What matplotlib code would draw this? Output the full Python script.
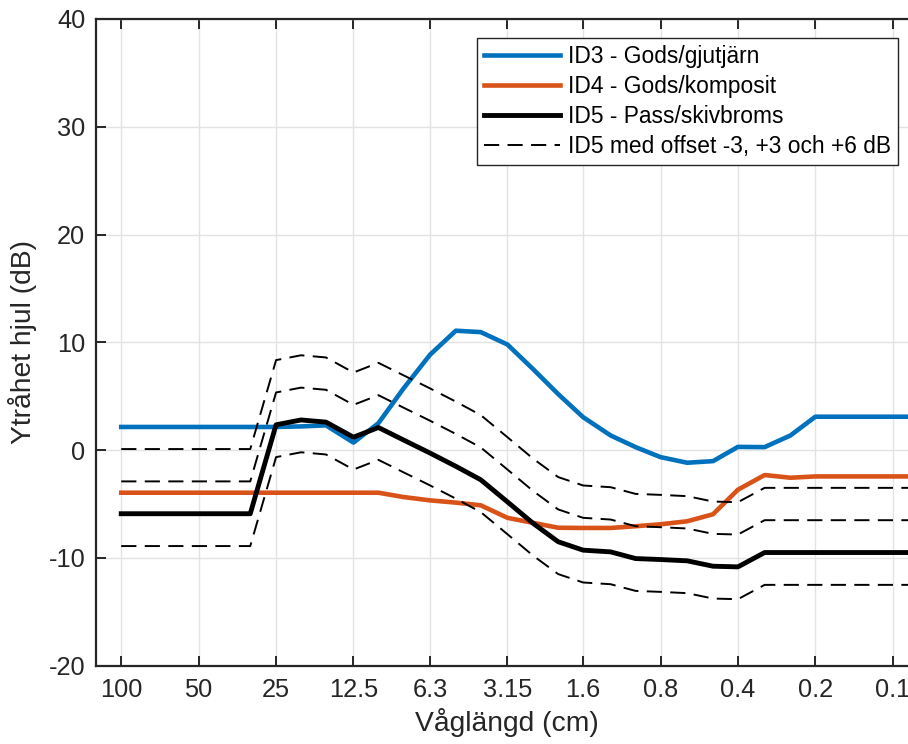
import matplotlib
matplotlib.use("Agg")
import matplotlib.pyplot as plt
import numpy as np

# Third-octave band wavelengths (cm)
wavelength = [100, 80, 63, 50, 40, 31.5, 25, 20, 16, 12.5, 10, 8, 6.3, 5, 4, 3.15,
              2.5, 2, 1.6, 1.25, 1, 0.8, 0.63, 0.5, 0.4, 0.315, 0.25, 0.2, 0.16,
              0.125, 0.1, 0.08]

id3 = [2.15, 2.15, 2.15, 2.15, 2.15, 2.15, 2.15, 2.2, 2.3, 0.7, 2.5, 5.7, 8.85,
       11.08, 10.95, 9.8, 7.5, 5.2, 3.06, 1.36, 0.28, -0.65, -1.17, -1.02, 0.3,
       0.28, 1.36, 3.1, 3.1, 3.1, 3.1, 3.1]

id4 = [-3.95, -3.95, -3.95, -3.95, -3.95, -3.95, -3.95, -3.95, -3.95, -3.95, -3.95,
       -4.35, -4.66, -4.87, -5.12, -6.28, -6.75, -7.2, -7.22, -7.22, -7.06, -6.88,
       -6.6, -5.95, -3.67, -2.31, -2.56, -2.44, -2.44, -2.44, -2.44, -2.44]

id5 = [-5.9, -5.9, -5.9, -5.9, -5.9, -5.9, 2.35, 2.8, 2.6, 1.2, 2.1, 0.95, -0.27,
       -1.5, -2.75, -4.8, -6.8, -8.5, -9.28, -9.44, -10.06, -10.15, -10.27, -10.77,
       -10.83, -9.5, -9.5, -9.5, -9.5, -9.5, -9.5, -9.5]

offsets = [-3, 3, 6]

xticks = [100, 50, 25, 12.5, 6.3, 3.15, 1.6, 0.8, 0.4, 0.2, 0.1]
xticklabels = ["100", "50", "25", "12.5", "6.3", "3.15", "1.6", "0.8", "0.4", "0.2", "0.1"]
yticks = [-20, -10, 0, 10, 20, 30, 40]

labels = ["ID3 - Gods/gjutjärn", "ID4 - Gods/komposit", "ID5 - Pass/skivbroms",
          "ID5 med offset -3, +3 och +6 dB"]

plt.rcParams['font.family'] = ['Liberation Sans', 'DejaVu Sans']
plt.rcParams['axes.unicode_minus'] = False

W, H = 908, 744
fig = plt.figure(figsize=(W / 100, H / 100), dpi=100)
left, right, top, bottom = 96.3, 917.7, 19.0, 665.7
ax = fig.add_axes([left / W, 1 - bottom / H, (right - left) / W, (bottom - top) / H])

blue = "#0072BD"
orange = "#D95319"
axcol = "#262626"

x = np.array(wavelength)
h1, = ax.plot(x, id3, color=blue, lw=3.3)
h2, = ax.plot(x, id4, color=orange, lw=3.3)
h3, = ax.plot(x, id5, color="black", lw=3.5)
hd = None
for off in offsets:
    hd, = ax.plot(x, np.array(id5) + off, color="black", lw=1.4,
                  linestyle=(0, (7.8, 4.3)))

ax.set_xscale('log')
ax.set_xlim(125, 0.08)
ax.set_ylim(-20, 40)
ax.set_xticks(xticks)
ax.set_xticklabels(xticklabels)
ax.xaxis.set_minor_locator(matplotlib.ticker.NullLocator())
ax.set_yticks(yticks)

ax.grid(True, color="#e3e3e3", lw=1.0)
ax.set_axisbelow(True)
for s in ax.spines.values():
    s.set_color(axcol)
    s.set_linewidth(1.6)

ax.tick_params(axis='both', which='major', direction='in', length=7, width=1.4,
               colors=axcol, labelsize=18.3, top=True, right=True, pad=8)
ax.tick_params(axis='x', pad=9)

ax.set_xlabel("Våglängd (cm)", fontsize=20.3, color=axcol, labelpad=4)
ax.set_ylabel("Ytråhet hjul (dB)", fontsize=20.3, color=axcol, labelpad=8)

leg = ax.legend([h1, h2, h3, hd], labels, loc='upper right',
                bbox_to_anchor=(898 / W, 1 - 38 / H), bbox_transform=fig.transFigure,
                borderaxespad=0, fontsize=16.4, fancybox=False, framealpha=1,
                edgecolor=axcol, handlelength=3.35, handletextpad=0.32,
                labelspacing=0.3, borderpad=0.32)
leg.get_frame().set_linewidth(1.0)
for t in leg.get_texts():
    t.set_color("black")

fig.savefig("out.png", dpi=100)
